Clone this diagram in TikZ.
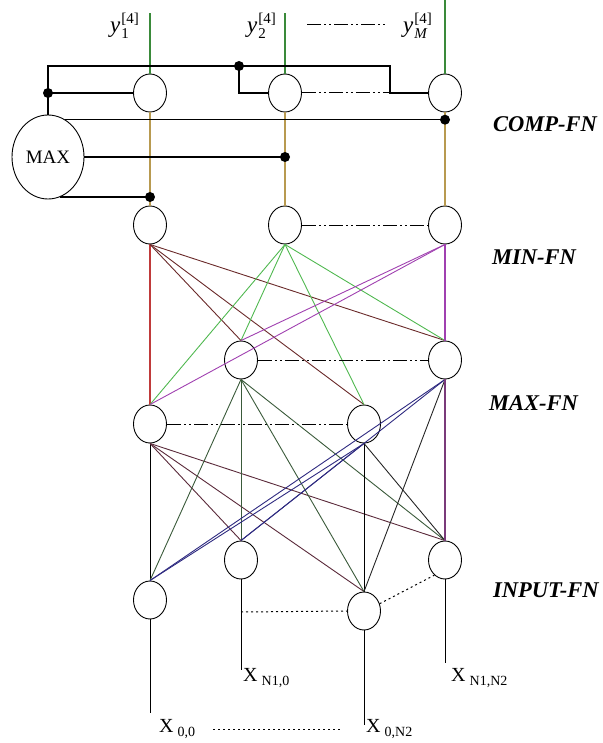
\documentclass[tikz,border=0pt]{standalone}
\usepackage{fontspec}
\setmainfont{Liberation Serif}
\usetikzlibrary{shapes.geometric}
\newcommand{\ylab}[1]{\textit{y}\hspace{1pt}\makebox[0pt][l]{\raisebox{9pt}{\fontsize{15}{17}\selectfont[4]}}\raisebox{-6pt}{\fontsize{15}{17}\selectfont #1}}
\newcommand{\xlab}[1]{X\hspace{4pt}\raisebox{-4pt}{\fontsize{14}{16}\selectfont #1}}
\definecolor{outgreen}{HTML}{3A8A3A}
\definecolor{comptan}{HTML}{B89A50}
\definecolor{minred}{HTML}{C03A3A}
\definecolor{minbrown}{HTML}{6A2A2A}
\definecolor{mingreen}{HTML}{50B850}
\definecolor{minmag}{HTML}{A040B0}
\definecolor{maxmaroon}{HTML}{5A2A3A}
\definecolor{maxgreen}{HTML}{3A5A3A}
\definecolor{navy}{HTML}{2E2A80}
\definecolor{dkpurple}{HTML}{7A3A7A}
\begin{document}
\begin{tikzpicture}[x=1pt,y=-1pt,
  neuron/.style={draw=black, line width=0.9pt, ellipse, minimum width=33pt, minimum height=38pt, inner sep=0pt},
  bigneuron/.style={neuron, minimum width=72pt, minimum height=84pt, font=\fontsize{19}{21}\selectfont},
  bus/.style={line width=1.2pt, black},
  jdot/.style={circle, fill=black, inner sep=0pt, minimum size=10pt},
  dashdotdot/.style={line width=1pt, black, dash pattern=on 14pt off 3pt on 2pt off 3pt on 2pt off 3pt},
  dotline/.style={line width=1pt, black, dash pattern=on 2pt off 3pt},
  wire/.style={line width=0.9pt},
  vwire/.style={line width=1.3pt},
  layerlabel/.style={font=\fontsize{22.5}{26}\selectfont\bfseries\itshape, anchor=west, inner sep=0pt},
  ytext/.style={font=\fontsize{23}{26}\selectfont, anchor=base west, inner sep=0pt},
  xtext/.style={font=\fontsize{20}{23}\selectfont, anchor=base west, inner sep=0pt}
]
\useasboundingbox (0,0) rectangle (602,743);

% ---------- nodes ----------
\node[neuron] (c1) at (150,93) {};
\node[neuron] (c2) at (285,93) {};
\node[neuron] (c3) at (445,93) {};
\node[bigneuron] (mx) at (48,157) {MAX};
\node[neuron] (n1) at (150,225) {};
\node[neuron] (n2) at (285,225) {};
\node[neuron] (n3) at (445,225) {};
\node[neuron] (a1) at (150,424) {};
\node[neuron] (a2) at (241,360) {};
\node[neuron] (a3) at (364,424) {};
\node[neuron] (a4) at (445,360) {};
\node[neuron] (i1) at (150,600) {};
\node[neuron] (i2) at (241,560) {};
\node[neuron] (i3) at (364,611) {};
\node[neuron] (i4) at (445,560) {};

% ---------- outputs ----------
\coordinate (o1) at (150,13);
\coordinate (o2) at (285,13);
\coordinate (o3) at (445,0);
\draw[vwire, outgreen] (c1.north) -- (o1);
\draw[vwire, outgreen] (c2.north) -- (o2);
\draw[vwire, outgreen] (c3.north) -- (o3);
\node[ytext] (y1) at (110,33) {\ylab{1}};
\node[ytext] (y2) at (247,33) {\ylab{2}};
\node[ytext] (yM) at (403,33) {\ylab{\textit{M}}};
\coordinate (yd1) at (307,25);
\coordinate (yd2) at (387,25);
\draw[dashdotdot] (yd1) -- (yd2);

% ---------- bus from MAX to COMP nodes ----------
\coordinate (b0) at (48,66);
\coordinate (b1) at (239,66);
\coordinate (b2) at (390,66);
\coordinate (b3) at (390,93);
\coordinate (b4) at (239,93);
\coordinate (b5) at (48,93);
\draw[bus] (mx.north) -- (b0) -- (b2) -- (b3) -- (c3.west);
\draw[bus] (b1) -- (b4) -- (c2.west);
\draw[bus] (b5) -- (c1.west);
\draw[dashdotdot] (c2.east) -- (b3);
\node[jdot] (j1) at (b1) {};
\node[jdot] (j2) at (b5) {};

% ---------- COMP -> MIN verticals ----------
\draw[vwire, comptan] (c1.south) -- (n1.north);
\draw[vwire, comptan] (c2.south) -- (n2.north);
\draw[vwire, comptan] (c3.south) -- (n3.north);

% ---------- MAX taps ----------
\draw[bus] (mx.65) -- (mx.65 -| c3.center) node[jdot] (j3) {};
\draw[bus] (mx.east) -- (mx.east -| c2.center) node[jdot] (j4) {};
\draw[bus] (mx.-73) -- (mx.-73 -| c1.center) node[jdot] (j5) {};

% ---------- MIN layer ----------
\draw[dashdotdot] (n2.east) -- (n3.west);

% MIN -> MAX-FN
\draw[vwire, minred] (n1.south) -- (a1.north);
\draw[wire, minbrown] (n1.south) -- (a2.north);
\draw[wire, minbrown] (n1.south) -- (a3.north);
\draw[wire, minbrown] (n1.south) -- (a4.north);
\draw[wire, mingreen] (n2.south) -- (a1.north);
\draw[wire, mingreen] (n2.south) -- (a2.north);
\draw[wire, mingreen] (n2.south) -- (a3.north);
\draw[wire, mingreen] (n2.south) -- (a4.north);
\draw[wire, minmag] (n3.south) -- (a1.north);
\draw[wire, minmag] (n3.south) -- (a2.north);
\draw[vwire, minmag] (n3.south) -- (a4.north);

% ---------- MAX-FN layer ----------
\draw[dashdotdot] (a2.east) -- (a4.west);
\draw[dashdotdot] (a1.east) -- (a3.west);

% MAX-FN -> INPUT-FN
\draw[wire, black] (a1.south) -- (i1.north);
\draw[wire, maxmaroon] (a1.south) -- (i2.north);
\draw[wire, maxmaroon] (a1.south) -- (i3.north);
\draw[wire, maxmaroon] (a1.south) -- (i4.north);
\draw[wire, maxgreen] (a2.south) -- (i1.north);
\draw[wire, maxgreen] (a2.south) -- (i2.north);
\draw[wire, maxgreen] (a2.south) -- (i3.north);
\draw[wire, maxgreen] (a2.south) -- (i4.north);
\draw[wire, navy] (a3.south) -- (i1.north);
\draw[wire, navy] (a3.south) -- (i2.north);
\draw[wire, black] (a3.south) -- (i3.north);
\draw[wire, black!85] (a3.south) -- (i4.north);
\draw[wire, navy] (a4.south) -- (i1.north);
\draw[wire, navy] (a4.south) -- (i2.north);
\draw[wire, black!85] (a4.south) -- (i3.north);
\draw[vwire, dkpurple] (a4.south) -- (i4.north);

% ---------- INPUT layer ----------
\coordinate (x1) at (150,713);
\coordinate (x2) at (241,670);
\coordinate (x3) at (364,725);
\coordinate (x4) at (445,663);
\draw[wire, black, line width=1pt] (i1.south) -- (x1);
\draw[wire, black, line width=1pt] (i2.south) -- (x2);
\draw[wire, black, line width=1pt] (i3.south) -- (x3);
\draw[wire, black, line width=1pt] (i4.south) -- (x4);
\coordinate (k1) at (241,612);
\draw[dotline] (k1) -- (i3.west);
\draw[dotline] (i3.25) -- (i4.235);

\node[xtext] (l00) at (159,732) {\xlab{0,0}};
\node[xtext] (ln10) at (243,681) {\xlab{N1,0}};
\node[xtext] (l0n2) at (366,732) {\xlab{0,N2}};
\node[xtext] (ln1n2) at (451,681) {\xlab{N1,N2}};
\coordinate (xd1) at (213,729);
\coordinate (xd2) at (340,729);
\draw[dotline] (xd1) -- (xd2);

% ---------- layer labels ----------
\node[layerlabel] (lcomp) at (493,124) {COMP-FN};
\node[layerlabel] (lmin) at (492,257) {MIN-FN};
\node[layerlabel] (lmax) at (489,403) {MAX-FN};
\node[layerlabel] (linp) at (493,590) {INPUT-FN};
\end{tikzpicture}
\end{document}
